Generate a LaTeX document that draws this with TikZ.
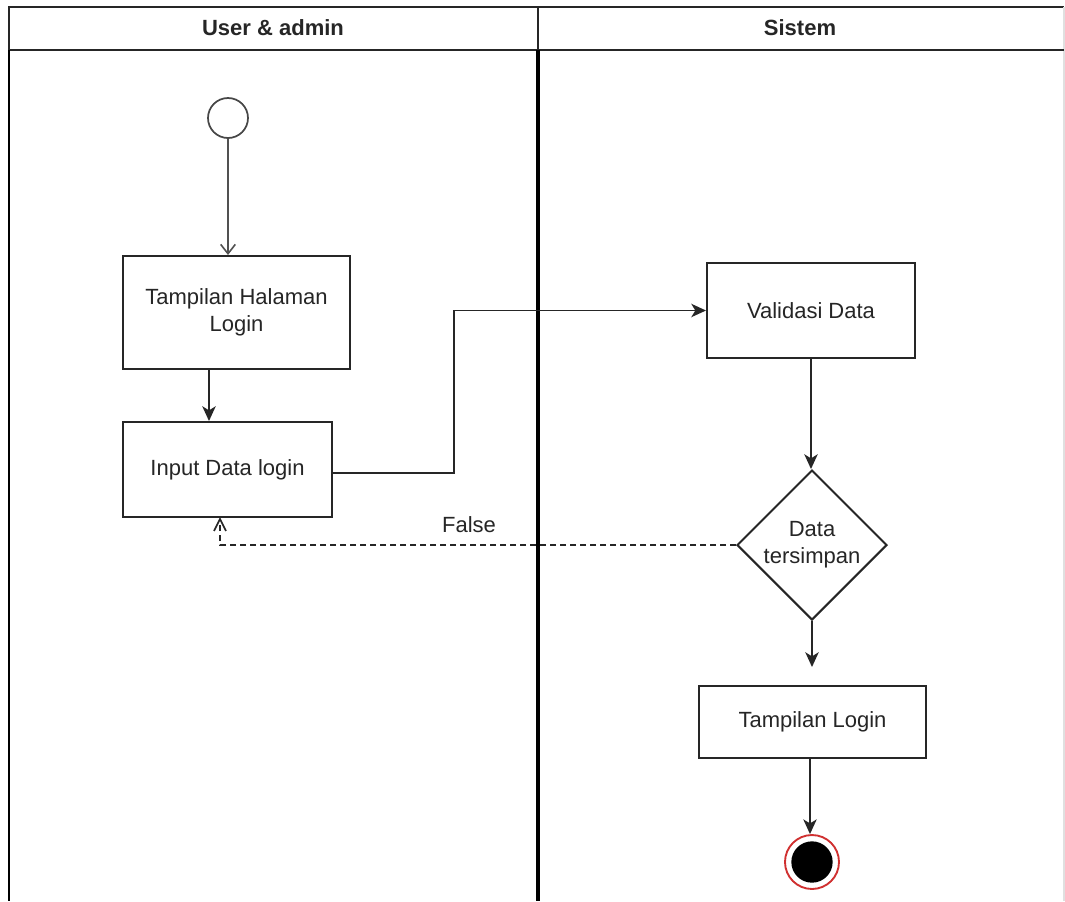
\documentclass[tikz,border=0pt]{standalone}
\usepackage{fontspec}
\setmainfont{Liberation Sans}
\usetikzlibrary{arrows.meta,shapes.geometric}
\definecolor{ink}{HTML}{262626}
\definecolor{endred}{HTML}{D03030}
\begin{document}
\begin{tikzpicture}[x=0.75pt,y=-0.75pt,
  every node/.style={font=\fontsize{16.5}{20}\selectfont, text=ink},
  lane/.style={draw=black, line width=2.6pt},
  frame/.style={draw=ink, line width=1.4pt},
  box/.style={draw=ink, line width=1.5pt, rectangle, align=center, inner sep=0pt},
  decision/.style={draw=ink, line width=1.5pt, diamond, aspect=1, align=center,
    inner sep=0pt, minimum width=112.5pt, minimum height=112.5pt},
  flow/.style={draw=ink, line width=1.4pt, -{Stealth[length=11pt,width=10pt,inset=3pt]}},
  openflow/.style={draw=ink!80, line width=1.2pt, -{Straight Barb[length=7pt,width=11pt]}},
  backflow/.style={draw=ink, line width=1.3pt, dash pattern=on 4.5pt off 3pt,
    -{Straight Barb[length=9pt,width=9pt]}}]

% canvas
\useasboundingbox (0,0) rectangle (1065,901);
\fill[white] (0,0) rectangle (1065,901);

% swimlane frame and header
\draw[frame] (1064,7) -- (9,7) -- (9,901);
\draw[draw=black!12, line width=1pt] (1064,7) -- (1064,901);
\draw[frame] (9,50) -- (1064,50);
\draw[frame] (538,7) -- (538,50);
\draw[lane] (538,50) -- (538,901);
\draw[line width=1.7pt, draw=black] (9,50) -- (9,901);
\node[font=\bfseries\fontsize{16.5}{20}\selectfont] (h1) at (273,28) {User \& admin};
\node[font=\bfseries\fontsize{16.5}{20}\selectfont] (h2) at (800,28) {Sistem};

% activity nodes
\node[circle, draw=ink!85, line width=1.3pt, minimum size=30pt, inner sep=0pt] (start) at (228,118) {};
\node[box, minimum width=170.25pt, minimum height=84.75pt] (b1) at (236.5,312.5) {Tampilan Halaman\\Login};
\node[box, minimum width=156.75pt, minimum height=71.25pt] (b2) at (227.5,469.5) {Input Data login};
\node[box, minimum width=156pt, minimum height=71.25pt] (val) at (811,310.5) {Validasi Data};
\node[decision] (d) at (812,545) {Data\\tersimpan};
\node[box, minimum width=170.25pt, minimum height=54pt] (tl) at (812.5,722) {Tampilan Login};
\node[circle, draw=endred, line width=1.4pt, minimum size=40.5pt, inner sep=0pt] (stop) at (812,862) {};
\node[circle, fill=black, minimum size=31pt, inner sep=0pt] (stopdot) at (812,862) {};

% edge label
\node (lf) at (469,525) {False};
\coordinate (fe) at (220,517);

% connectors
\draw[openflow] (start.south) -- (b1.north -| start.south);
\draw[flow] (209,369) -- (b2.north -| 209,0);
\draw[flow] (b2.east |- 0,473) -- (454,473) |- (val.west);
\draw[flow] (val.south -| 811,0) -- (d.north -| 811,0);
\draw[backflow] (d.west) -| (fe);
\draw[flow, shorten >=13.5pt] (d.south) -- (tl.north -| d.south);
\draw[flow] (tl.south -| 810,0) -- (stop.north -| 810,0);
\end{tikzpicture}
\end{document}
